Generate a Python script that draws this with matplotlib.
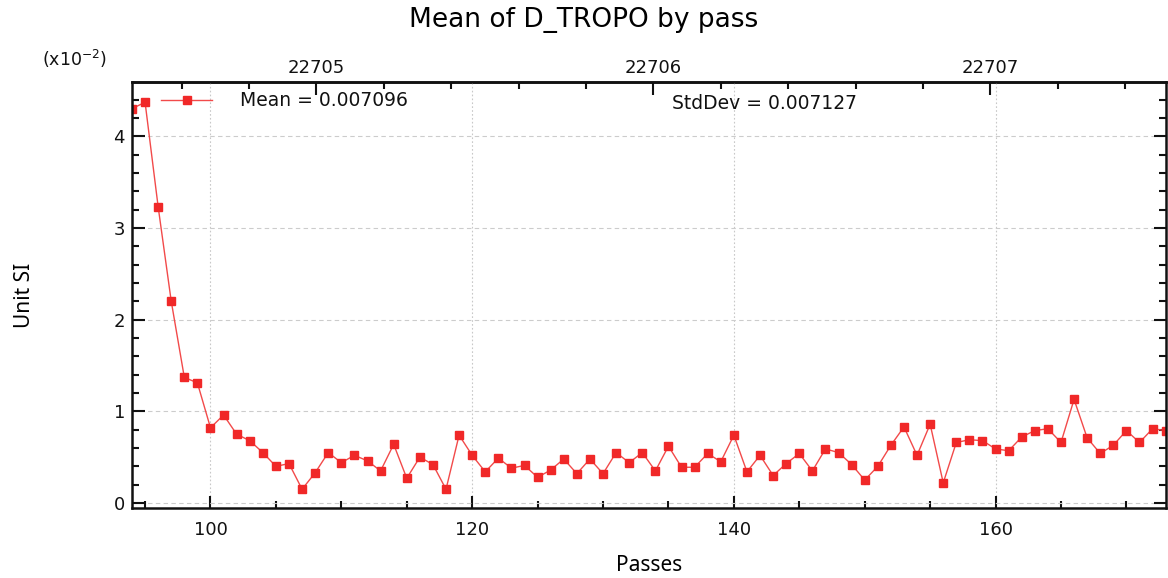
import numpy as np
import matplotlib.pyplot as plt
from matplotlib.ticker import MultipleLocator, FixedLocator

# data (values in units of 1e-2)
passes = np.arange(94, 174)
mean_vals = [4.30, 4.37, 3.23, 2.20, 1.37, 1.31, 0.82, 0.96, 0.75, 0.68,
             0.55, 0.40, 0.43, 0.15, 0.33, 0.55, 0.44, 0.52, 0.46, 0.35,
             0.64, 0.27, 0.50, 0.42, 0.15, 0.74, 0.52, 0.34, 0.49, 0.38,
             0.41, 0.28, 0.36, 0.48, 0.32, 0.48, 0.32, 0.55, 0.44, 0.55,
             0.35, 0.62, 0.39, 0.39, 0.54, 0.45, 0.74, 0.34, 0.52, 0.30,
             0.43, 0.54, 0.35, 0.59, 0.55, 0.42, 0.25, 0.40, 0.63, 0.83,
             0.52, 0.86, 0.22, 0.66, 0.69, 0.68, 0.59, 0.57, 0.72, 0.79,
             0.81, 0.66, 1.13, 0.71, 0.54, 0.63, 0.79, 0.66, 0.81, 0.79]
cycle_ticks = [22705, 22706, 22707]
mean_label = "Mean = 0.007096"
std_label = "StdDev = 0.007127"

# cycle axis: linear relation with passes
CYCLE_REF_PASS = 108.1
PASSES_PER_CYCLE = 25.75


def pass_to_cycle(p):
    return 22705 + (np.asarray(p) - CYCLE_REF_PASS) / PASSES_PER_CYCLE


def cycle_to_pass(c):
    return CYCLE_REF_PASS + (np.asarray(c) - 22705) * PASSES_PER_CYCLE


fig = plt.figure(figsize=(11.68, 5.78), dpi=100)
ax = fig.add_axes([0.113, 0.121, 0.885, 0.737])

line, = ax.plot(passes, mean_vals, color='#f24a4a', lw=1.0, marker='s',
                markersize=5.5, markerfacecolor='#f02828',
                markeredgecolor='#f02828', label=mean_label)

ax.set_xlim(94, 173)
ax.set_ylim(-0.055, 4.59)

ax.xaxis.set_major_locator(MultipleLocator(20))
ax.xaxis.set_minor_locator(MultipleLocator(5))
ax.yaxis.set_major_locator(MultipleLocator(1))
ax.yaxis.set_minor_locator(MultipleLocator(0.2))

ax.tick_params(which='both', direction='in', right=True, top=False,
               labelsize=13, colors='#111111', width=1.5)
ax.tick_params(which='major', length=9)
ax.tick_params(which='minor', length=5)
ax.tick_params(axis='x', which='major', pad=9)
ax.tick_params(axis='y', which='major', pad=5)

for s in ax.spines.values():
    s.set_linewidth(1.8)
    s.set_color('#111111')

ax.yaxis.grid(True, which='major', ls=(0, (4, 3)), color='#cccccc', lw=0.8)
ax.xaxis.grid(True, which='major', ls=(0, (1.5, 2)), color='#c8c8c8', lw=0.8)

sec = ax.secondary_xaxis('top', functions=(pass_to_cycle, cycle_to_pass))
sec.xaxis.set_major_locator(FixedLocator(cycle_ticks))
sec.xaxis.set_minor_locator(MultipleLocator(0.2))
sec.xaxis.set_major_formatter(plt.FuncFormatter(lambda v, pos: "%d" % round(v)))
sec.tick_params(which='both', direction='in', labelsize=13, colors='#111111',
                width=1.5)
sec.tick_params(which='major', length=9, pad=4)
sec.tick_params(which='minor', length=5)
sec.spines['top'].set_linewidth(1.8)

leg = ax.legend(loc='upper left', frameon=False, fontsize=13.5,
                handlelength=2.7, handletextpad=1.5,
                bbox_to_anchor=(0.012, 1.018))
for t in leg.get_texts():
    t.set_color('#111111')
ax.text(0.522, 0.95, std_label, transform=ax.transAxes, fontsize=13.5,
        color='#111111', va='center')

ax.set_xlabel("Passes", family='Noto Sans', fontsize=15, labelpad=12)
ax.set_ylabel("Unit SI", family='Noto Sans', fontsize=15)
ax.yaxis.set_label_coords(-0.094, 0.5)
fig.text(0.036, 0.885, "(x10$^{-2}$)", fontsize=12.5, color='#111111')
fig.suptitle("Mean of D_TROPO by pass", fontsize=19, y=0.988)

fig.savefig("out.png", dpi=100)
